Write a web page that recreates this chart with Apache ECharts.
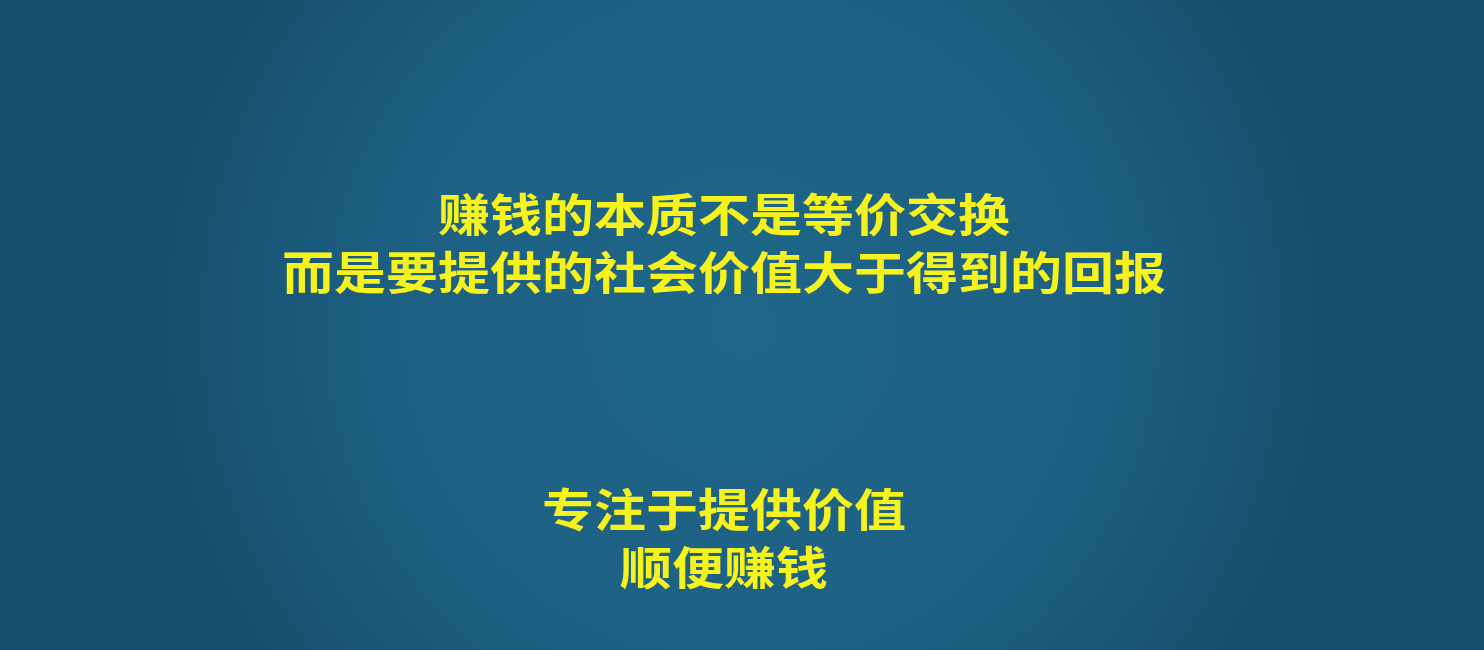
<!doctype html>
<html>
<head>
<meta charset="utf-8">
<script src="https://cdn.jsdelivr.net/npm/echarts@6/dist/echarts.min.js"></script>
<style>
html,body{margin:0;width:100%;height:100%;overflow:hidden;}
#container{width:1484px;height:650px;}
</style>
</head>
<body>
<div id="container"></div>
<script>
var topLines = ['赚钱的本质不是等价交换', '而是要提供的社会价值大于得到的回报'];
var bottomLines = ['专注于提供价值', '顺便赚钱'];
var topY = [215, 273];
var bottomY = [510, 568];

var chart = echarts.init(document.getElementById('container'));

function textEl(t, y) {
  return {
    type: 'text',
    x: 724,
    y: y,
    scaleY: 0.88,
    style: {
      text: t,
      fill: '#f6f21e',
      font: 'bold 52px "Noto Sans CJK SC"',
      align: 'center',
      verticalAlign: 'middle'
    }
  };
}

var elements = [];
topLines.forEach(function (t, i) { elements.push(textEl(t, topY[i])); });
bottomLines.forEach(function (t, i) { elements.push(textEl(t, bottomY[i])); });

chart.setOption({
  animation: false,
  backgroundColor: new echarts.graphic.RadialGradient(0.5, 0.5, 0.9, [
    { offset: 0, color: '#1f6688' },
    { offset: 0.6, color: '#1d6083' },
    { offset: 1, color: '#164e6d' }
  ]),
  graphic: elements
});
</script>
</body>
</html>
